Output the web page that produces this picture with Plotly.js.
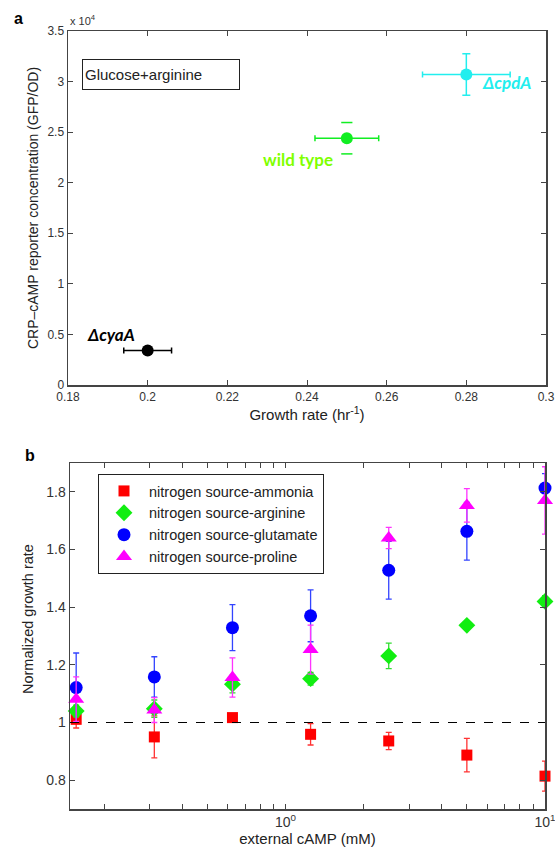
<!DOCTYPE html>
<html>
<head>
<meta charset="utf-8">
<script src="https://cdn.plot.ly/plotly-3.0.1.min.js"></script>
<style>html,body{margin:0;padding:0;background:#fff;}#chart{width:555px;height:848px;}</style>
</head>
<body>
<div id="chart"></div>
<script>
// ---- Panel a data ----
const strainNames = ['ΔcyaA', 'wild type', 'ΔcpdA'];
const growthRate = [0.200, 0.250, 0.280];
const growthRateErr = [0.006, 0.008, 0.011];
const reporter = [3400, 24400, 30700];
const reporterErr = [0, 1550, 2050];
const strainColors = ['#000000', '#11ee22', '#22eeee'];
const labelColors = ['#000000', '#80ff00', '#22eeee'];

// ---- Panel b data ----
const cAMP = [0.15625, 0.3125, 0.625, 1.25, 2.5, 5, 10];
const ammonia = [1.011, 0.950, 1.017, 0.959, 0.936, 0.887, 0.814];
const ammoniaErr = [0.03, 0.073, 0.01, 0.037, 0.03, 0.058, 0.052];
const arginine = [1.040, 1.048, 1.133, 1.152, 1.231, 1.337, 1.420];
const arginineErr = [0.02, 0.03, 0.03, 0.022, 0.044, 0.01, 0.02];
const glutamate = [1.121, 1.158, 1.329, 1.370, 1.528, 1.663, 1.813];
const glutamateErr = [0.12, 0.07, 0.08, 0.09, 0.1, 0.1, 0.05];
const proline = [1.081, 1.043, 1.156, 1.253, 1.640, 1.753, 1.770];
const prolineErr = [0.077, 0.043, 0.068, 0.085, 0.037, 0.058, 0.117];
const seriesNames = ['nitrogen source-ammonia', 'nitrogen source-arginine', 'nitrogen source-glutamate', 'nitrogen source-proline'];

const topXTicks = [0.18, 0.2, 0.22, 0.24, 0.26, 0.28, 0.3];
const topYTicks = [0, 5000, 10000, 15000, 20000, 25000, 30000, 35000];
const topYTickText = ['0', '0.5', '1', '1.5', '2', '2.5', '3', '3.5'];
const botYTicks = [0.8, 1, 1.2, 1.4, 1.6, 1.8];
const botXTicks = [0.2, 0.3, 0.4, 0.5, 0.6, 0.7, 0.8, 0.9, 1, 2, 3, 4, 5, 6, 7, 8, 9, 10];

const W = 555, H = 848;
const px = x => x / W;
const py = y => 1 - y / H;
const FONT = 'Liberation Sans, Arial, sans-serif';

const traces = [];
// Panel a points
for (let i = 0; i < strainNames.length; i++) {
  const showY = i === 2;
  traces.push({
    x: [growthRate[i]], y: [reporter[i]], type: 'scatter', mode: 'markers',
    xaxis: 'x', yaxis: 'y', showlegend: false, cliponaxis: false,
    marker: {color: strainColors[i], size: 12, symbol: 'circle'},
    error_x: {type: 'data', array: [growthRateErr[i]], color: strainColors[i], thickness: 1.5, width: 3},
    error_y: showY ? {type: 'data', array: [reporterErr[i]], color: strainColors[i], thickness: 1.5, width: 4} : {visible: false}
  });
}
// wild type: caps only
traces.push({
  x: [growthRate[1], growthRate[1]], y: [reporter[1] + reporterErr[1], reporter[1] - reporterErr[1]],
  type: 'scatter', mode: 'markers', xaxis: 'x', yaxis: 'y', showlegend: false,
  marker: {symbol: 'line-ew', size: 8, line: {color: strainColors[1], width: 1.5}}
});

// Panel b series
const bSeries = [
  {y: ammonia, e: ammoniaErr, color: '#ff0000', symbol: 'square', size: 11},
  {y: arginine, e: arginineErr, color: '#11ee11', symbol: 'diamond', size: 13},
  {y: glutamate, e: glutamateErr, color: '#0000ff', symbol: 'circle', size: 13},
  {y: proline, e: prolineErr, color: '#ff00ff', symbol: 'triangle-up', size: 14}
];
const errColors = ['#ff3333', '#33dd33', '#3344ff', '#ff33ff'];
bSeries.forEach((s, i) => {
  traces.push({
    x: cAMP, y: s.y, type: 'scatter', mode: 'markers', xaxis: 'x2', yaxis: 'y2',
    name: seriesNames[i], showlegend: true, cliponaxis: false,
    marker: {color: s.color, symbol: s.symbol, size: s.size},
    error_y: {type: 'data', array: s.e, color: errColors[i], thickness: 1.3, width: 3}
  });
});

const axisCommon = {
  showgrid: false, zeroline: false, showline: true, linecolor: '#444', linewidth: 1.5,
  mirror: 'ticks', ticks: 'inside', ticklen: 5, tickcolor: '#444', tickwidth: 1,
  ticklabeloverflow: 'allow',
  tickfont: {family: FONT, size: 12, color: '#333'}
};

const layout = {
  width: W, height: H, paper_bgcolor: '#fff', plot_bgcolor: '#fff',
  margin: {l: 0, r: 0, t: 0, b: 0},
  xaxis: Object.assign({}, axisCommon, {
    domain: [px(68), px(546)], anchor: 'y', range: [0.18, 0.3],
    tickvals: topXTicks, ticktext: topXTicks.map(v => String(v)),
    title: {text: 'Growth rate (hr<sup>-1</sup>)', font: {family: FONT, size: 15, color: '#222'}, standoff: 4}
  }),
  yaxis: Object.assign({}, axisCommon, {
    domain: [py(385), py(31)], anchor: 'x', range: [0, 35000],
    tickvals: topYTicks, ticktext: topYTickText,
    title: {text: 'CRP–cAMP reporter concentration (GFP/OD)', font: {family: FONT, size: 14, color: '#222'}, standoff: 5}
  }),
  xaxis2: Object.assign({}, axisCommon, {
    domain: [px(70), px(545)], anchor: 'y2', type: 'log', range: [-0.83, 1],
    tickvals: botXTicks, ticktext: botXTicks.map(v => v === 1 ? '10<sup>0</sup>' : (v === 10 ? '10<sup>1</sup>' : '')),
    tickfont: {family: FONT, size: 14, color: '#333'},
    title: {text: 'external cAMP (mM)', font: {family: FONT, size: 15, color: '#222'}, standoff: 0}
  }),
  yaxis2: Object.assign({}, axisCommon, {
    domain: [py(809), py(463)], anchor: 'x2', range: [0.7, 1.9],
    tickvals: botYTicks, ticktext: botYTicks.map(v => String(v)),
    tickfont: {family: FONT, size: 14, color: '#333'}
  }),
  shapes: [
    {type: 'line', xref: 'x2 domain', yref: 'y2', x0: 0, x1: 1, y0: 1, y1: 1, line: {color: '#000', width: 1, dash: 'dash'}}
  ],
  legend: {
    x: px(98), y: py(474), xanchor: 'left', yanchor: 'top', xref: 'paper', yref: 'paper',
    bgcolor: '#fff', bordercolor: '#222', borderwidth: 1,
    font: {family: FONT, size: 14.5, color: '#222'},
    tracegroupgap: 0, itemwidth: 40
  },
  annotations: [
    {text: '<b>a</b>', xref: 'paper', yref: 'paper', x: px(18), y: py(18), xanchor: 'center', yanchor: 'middle', showarrow: false, font: {family: FONT, size: 16, color: '#000'}},
    {text: '<b>b</b>', xref: 'paper', yref: 'paper', x: px(30), y: py(455), xanchor: 'center', yanchor: 'middle', showarrow: false, font: {family: FONT, size: 16, color: '#000'}},
    {text: 'Normalized growth rate', xref: 'paper', yref: 'paper', x: px(28), y: py(619), xanchor: 'center', yanchor: 'middle', textangle: -90, showarrow: false, font: {family: FONT, size: 14.5, color: '#222'}},
    {text: 'x 10<sup>4</sup>', xref: 'paper', yref: 'paper', x: px(68), y: py(20), xanchor: 'left', yanchor: 'middle', showarrow: false, font: {family: FONT, size: 11, color: '#333'}},
    {text: 'Glucose+arginine', xref: 'paper', yref: 'paper', x: px(82), y: py(74.5), xanchor: 'left', yanchor: 'middle', showarrow: false, width: 152, height: 25, align: 'left', borderpad: 2, bordercolor: '#222', borderwidth: 1, bgcolor: '#fff', font: {family: FONT, size: 15, color: '#222'}},
    {text: '<b><i>' + strainNames[0] + '</i></b>', xref: 'x', yref: 'y', x: 0.1908, y: 4950, xanchor: 'center', yanchor: 'middle', showarrow: false, font: {family: 'Lato, Open Sans, sans-serif', size: 17, color: labelColors[0]}},
    {text: '<b>' + strainNames[1] + '</b>', xref: 'x', yref: 'y', x: 0.247, y: 22300, xanchor: 'right', yanchor: 'middle', showarrow: false, font: {family: 'Lato, Open Sans, sans-serif', size: 17, color: labelColors[1]}},
    {text: '<b><i>' + strainNames[2] + '</i></b>', xref: 'x', yref: 'y', x: 0.2834, y: 29900, xanchor: 'left', yanchor: 'middle', showarrow: false, font: {family: 'Lato, Open Sans, sans-serif', size: 17, color: labelColors[2]}}
  ]
};

Plotly.newPlot('chart', traces, layout, {displayModeBar: false, staticPlot: true});
</script>
</body>
</html>
